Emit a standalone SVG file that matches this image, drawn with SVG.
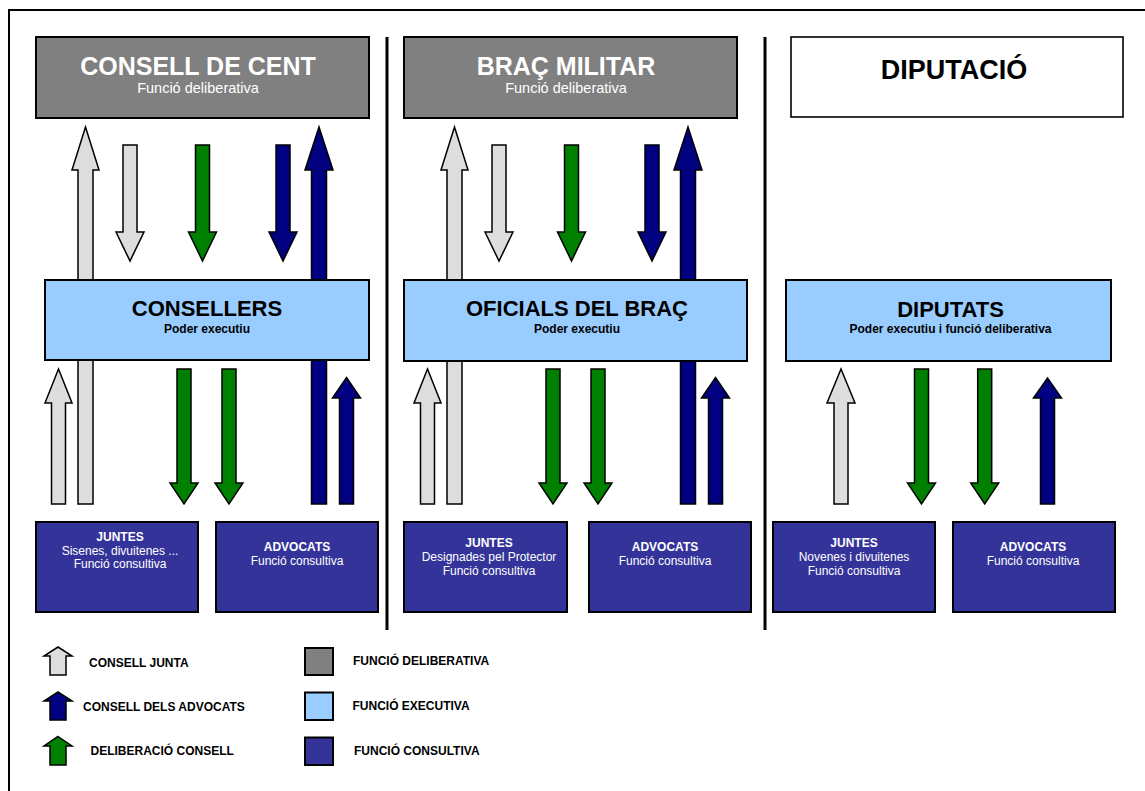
<svg xmlns="http://www.w3.org/2000/svg" width="1145" height="791" viewBox="0 0 1145 791">
<style>
text{font-family:"Liberation Sans",Arial,sans-serif}
.box{stroke:#000;stroke-width:2}
.delib{fill:#808080}
.exec{fill:#99CCFF}
.cons{fill:#333399}
.plain{fill:#fff;stroke:#000;stroke-width:1.6}
.t1{font-size:25px;font-weight:bold;fill:#fff;text-anchor:middle}
.t1k{font-size:27px;font-weight:bold;fill:#000;text-anchor:middle}
.s1{font-size:14.5px;fill:#fff;text-anchor:middle}
.t2{font-size:22px;font-weight:bold;fill:#000;text-anchor:middle}
.s2{font-size:12px;font-weight:bold;fill:#000;text-anchor:middle}
.t3{font-size:12px;font-weight:bold;fill:#fff;text-anchor:middle}
.s3{font-size:12px;fill:#fff;text-anchor:middle}
.lg{font-size:12px;font-weight:bold;fill:#000}
.ar{stroke:#000;stroke-width:1.5;stroke-linejoin:miter}
.gray{fill:#DDDDDD}
.green{fill:#008000}
.navy{fill:#000080}
.div{stroke:#000;stroke-width:3}
</style>
<rect width="1145" height="791" fill="#fff"/>
<rect x="9" y="10" width="1150" height="800" fill="none" stroke="#000" stroke-width="2"/>
<line class="div" x1="387" y1="37" x2="387" y2="630"/>
<line class="div" x1="765" y1="37" x2="765" y2="630"/>

<g id="connectors">
  <polygon class="ar gray" points="85.5,127 99,170 93,170 93,504 78,504 78,170 72,170"/>
  <polygon class="ar gray" points="123,145 137,145 137,232 144,232 130,261 116,232 123,232"/>
  <polygon class="ar green" points="195.5,145 209.5,145 209.5,232 216.5,232 202.5,261 188.5,232 195.5,232"/>
  <polygon class="ar navy" points="276,145 290,145 290,232 297,232 283,261 269,232 276,232"/>
  <polygon class="ar navy" points="319,127 333,170 326.5,170 326.5,504 311.5,504 311.5,170 305,170"/>
  <polygon class="ar gray" points="58.5,369 72,403 65.5,403 65.5,504 51.5,504 51.5,403 45,403"/>
  <polygon class="ar green" points="177,369 191,369 191,483 198,483 184,504 170,483 177,483"/>
  <polygon class="ar green" points="222,369 236,369 236,483 243,483 229,504 215,483 222,483"/>
  <polygon class="ar navy" points="346.5,377.5 360.5,398 353.5,398 353.5,504 339.5,504 339.5,398 332.5,398"/>

  <polygon class="ar gray" points="454.5,127 468,170 462,170 462,504 447,504 447,170 441,170"/>
  <polygon class="ar gray" points="492,145 506,145 506,232 513,232 499,261 485,232 492,232"/>
  <polygon class="ar green" points="564.5,145 578.5,145 578.5,232 585.5,232 571.5,261 557.5,232 564.5,232"/>
  <polygon class="ar navy" points="645,145 659,145 659,232 666,232 652,261 638,232 645,232"/>
  <polygon class="ar navy" points="688,127 702,170 695.5,170 695.5,504 680.5,504 680.5,170 674,170"/>
  <polygon class="ar gray" points="427.5,369 441,403 434.5,403 434.5,504 420.5,504 420.5,403 414,403"/>
  <polygon class="ar green" points="546,369 560,369 560,483 567,483 553,504 539,483 546,483"/>
  <polygon class="ar green" points="591,369 605,369 605,483 612,483 598,504 584,483 591,483"/>
  <polygon class="ar navy" points="715.5,377.5 729.5,398 722.5,398 722.5,504 708.5,504 708.5,398 701.5,398"/>

  <polygon class="ar gray" points="841,369 855,403 848,403 848,504 834,504 834,403 827,403"/>
  <polygon class="ar green" points="914.5,369 928.5,369 928.5,483 935.5,483 921.5,504 907.5,483 914.5,483"/>
  <polygon class="ar green" points="977.7,369 991.7,369 991.7,483 998.7,483 984.7,504 970.7,483 977.7,483"/>
  <polygon class="ar navy" points="1047.5,378 1061.5,398 1054.5,398 1054.5,504 1040.5,504 1040.5,398 1033.5,398"/>
</g>

<g id="consell-de-cent">
  <rect class="box delib" x="36" y="37" width="333" height="81"/>
  <text class="t1" x="198" y="75">CONSELL DE CENT</text>
  <text class="s1" x="198" y="93">Funció deliberativa</text>
</g>
<g id="brac-militar">
  <rect class="box delib" x="404" y="37" width="333" height="81"/>
  <text class="t1" x="566" y="75">BRAÇ MILITAR</text>
  <text class="s1" x="566" y="93">Funció deliberativa</text>
</g>
<g id="diputacio">
  <rect class="plain" x="791" y="37" width="332" height="80"/>
  <text class="t1k" x="954" y="78.5">DIPUTACIÓ</text>
</g>

<g id="consellers">
  <rect class="box exec" x="45" y="280" width="324" height="80"/>
  <text class="t2" x="207" y="316">CONSELLERS</text>
  <text class="s2" x="207" y="333">Poder executiu</text>
</g>
<g id="oficials-del-brac">
  <rect class="box exec" x="404" y="280" width="343" height="81"/>
  <text class="t2" x="577" y="316">OFICIALS DEL BRAÇ</text>
  <text class="s2" x="577" y="333">Poder executiu</text>
</g>
<g id="diputats">
  <rect class="box exec" x="786" y="280" width="325" height="81"/>
  <text class="t2" x="950.5" y="316.5">DIPUTATS</text>
  <text class="s2" x="950.5" y="333">Poder executiu i funció deliberativa</text>
</g>

<g id="juntes-cent">
  <rect class="box cons" x="36" y="522" width="162" height="90"/>
  <text class="t3" x="120" y="541">JUNTES</text>
  <text class="s3" x="120" y="554.5">Sisenes, divuitenes ...</text>
  <text class="s3" x="120" y="568">Funció consultiva</text>
</g>
<g id="advocats-cent">
  <rect class="box cons" x="216" y="522" width="162" height="90"/>
  <text class="t3" x="297" y="551">ADVOCATS</text>
  <text class="s3" x="297" y="565">Funció consultiva</text>
</g>
<g id="juntes-brac">
  <rect class="box cons" x="404" y="522" width="163" height="90"/>
  <text class="t3" x="489" y="547">JUNTES</text>
  <text class="s3" x="489" y="561">Designades pel Protector</text>
  <text class="s3" x="489" y="575">Funció consultiva</text>
</g>
<g id="advocats-brac">
  <rect class="box cons" x="589" y="522" width="162" height="90"/>
  <text class="t3" x="665" y="551">ADVOCATS</text>
  <text class="s3" x="665" y="565">Funció consultiva</text>
</g>
<g id="juntes-diputacio">
  <rect class="box cons" x="773" y="522" width="162" height="90"/>
  <text class="t3" x="854" y="547">JUNTES</text>
  <text class="s3" x="854" y="561">Novenes i divuitenes</text>
  <text class="s3" x="854" y="575">Funció consultiva</text>
</g>
<g id="advocats-diputacio">
  <rect class="box cons" x="953" y="522" width="162" height="90"/>
  <text class="t3" x="1033" y="551">ADVOCATS</text>
  <text class="s3" x="1033" y="565">Funció consultiva</text>
</g>

<g id="legend">
  <polygon class="ar gray" points="58,647 72,656 66,656 66,675 50,675 50,656 44,656"/>
  <text class="lg" x="89" y="666.5">CONSELL JUNTA</text>
  <polygon class="ar navy" points="58,692 72,701 66,701 66,720 50,720 50,701 44,701"/>
  <text class="lg" x="83" y="710.5">CONSELL DELS ADVOCATS</text>
  <polygon class="ar green" points="58,736.5 72,746 66,746 66,765 50,765 50,746 44,746"/>
  <text class="lg" x="90.5" y="754.5">DELIBERACIÓ CONSELL</text>
  <rect class="box delib" x="305" y="648" width="28" height="27"/>
  <text class="lg" x="353" y="665">FUNCIÓ DELIBERATIVA</text>
  <rect class="box exec" x="305" y="692.5" width="28" height="27.5"/>
  <text class="lg" x="352.5" y="710">FUNCIÓ EXECUTIVA</text>
  <rect class="box cons" x="305" y="737.5" width="28" height="27.5"/>
  <text class="lg" x="354" y="754.5">FUNCIÓ CONSULTIVA</text>
</g>
</svg>
